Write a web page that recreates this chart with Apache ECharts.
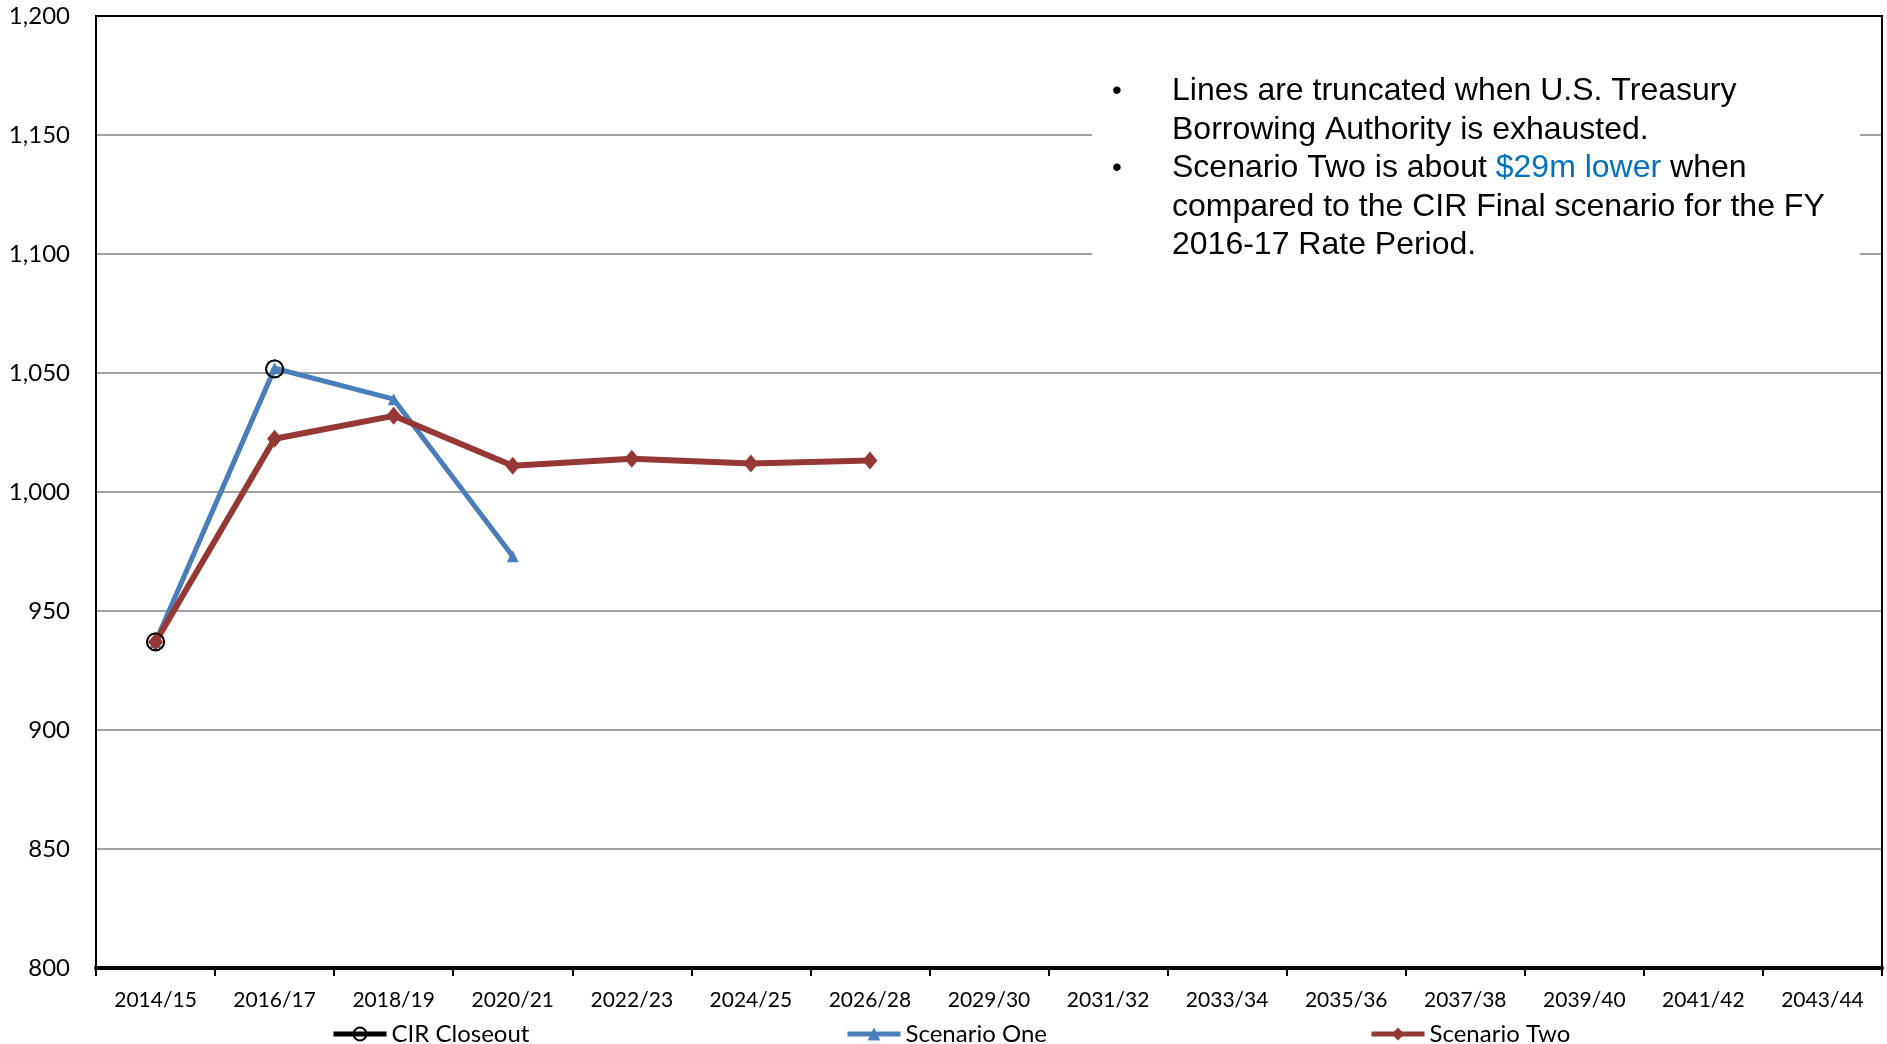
<!DOCTYPE html>
<html>
<head>
<meta charset="utf-8">
<script src="https://cdn.jsdelivr.net/npm/echarts@6/dist/echarts.min.js"></script>
<style>
  html, body { margin: 0; padding: 0; background: #fff; }
  #chart { width: 1887px; height: 1044px; }
</style>
</head>
<body>
<div id="chart"></div>
<script>
// Rate periods along the x axis
const periods = ['2014/15', '2016/17', '2018/19', '2020/21', '2022/23', '2024/25', '2026/28',
  '2029/30', '2031/32', '2033/34', '2035/36', '2037/38', '2039/40', '2041/42', '2043/44'];

// Series values (lines stop where borrowing authority runs out)
const cirCloseout = [937, 1051.7];
const scenarioOne = [937, 1052, 1039, 973];
const scenarioTwo = [937, 1022.4, 1032, 1011, 1014, 1012, 1013.2];

// Value axis ticks
const yTicks = [800, 850, 900, 950, 1000, 1050, 1100, 1150, 1200];

// Note text lines
const noteLines = [
  { bullet: true,  text: 'Lines are truncated when U.S. Treasury' },
  { bullet: false, text: 'Borrowing Authority is exhausted.' },
  { bullet: true,  text: 'Scenario Two is about {hl|$29m lower} when' },
  { bullet: false, text: 'compared to the CIR Final scenario for the FY' },
  { bullet: false, text: '2016-17 Rate Period.' }
];

const labelFont = 'Lato, "Open Sans", sans-serif';
const noteFont = '"Liberation Sans", Arial, sans-serif';
const chart = echarts.init(document.getElementById('chart'), null, { renderer: 'canvas' });

const noteElements = [];
noteLines.forEach(function (ln, i) {
  const y = 91.5 + i * 38.5;
  if (ln.bullet) {
    noteElements.push({
      type: 'text', x: 1117, y: y, z: 101,
      style: { text: '•', fontFamily: noteFont, fontSize: 28,
        fill: '#000', align: 'center', verticalAlign: 'middle' }
    });
  }
  noteElements.push({
    type: 'text', x: 1172, y: y, z: 101,
    style: {
      text: ln.text, fontFamily: noteFont, fontSize: 32,
      fill: '#000', align: 'left', verticalAlign: 'middle',
      rich: { hl: { fill: '#0070C0', fontFamily: noteFont, fontSize: 32 } }
    }
  });
});

function legendAt(left, name) {
  return {
    left: left, top: 1022, padding: 0,
    itemWidth: 53, itemHeight: 16, itemGap: 0,
    data: [name],
    lineStyle: { width: 5 },
    textStyle: { fontFamily: labelFont, fontSize: 24, color: '#000' }
  };
}

chart.setOption({
  animation: false,
  backgroundColor: '#fff',
  grid: {
    left: 96, right: 5, top: 16, bottom: 76,
    show: true, borderColor: '#000', borderWidth: 2, backgroundColor: '#fff'
  },
  legend: [
    legendAt(331, 'CIR Closeout'),
    legendAt(845, 'Scenario One'),
    legendAt(1369, 'Scenario Two')
  ],
  xAxis: {
    type: 'category',
    data: periods,
    boundaryGap: true,
    axisLine: { show: true, lineStyle: { color: '#000', width: 4 } },
    axisTick: { show: true, length: 8, lineStyle: { color: '#000', width: 2 } },
    axisLabel: { margin: 22, fontFamily: labelFont, fontSize: 21, color: '#000', interval: 0 },
    splitLine: { show: false }
  },
  yAxis: {
    type: 'value',
    min: yTicks[0],
    max: yTicks[yTicks.length - 1],
    interval: yTicks[1] - yTicks[0],
    axisLine: { show: true, lineStyle: { color: '#000', width: 2 } },
    axisTick: { show: false },
    axisLabel: {
      margin: 26, fontFamily: labelFont, fontSize: 24, color: '#000',
      formatter: function (v) { return v.toLocaleString('en-US'); }
    },
    splitLine: { show: true, showMinLine: false, showMaxLine: false,
      lineStyle: { color: '#a0a0a0', width: 2 } }
  },
  series: [
    {
      name: 'CIR Closeout',
      type: 'line',
      data: cirCloseout,
      z: 1,
      symbol: 'circle',
      symbolSize: 17,
      lineStyle: { color: '#000', width: 4 },
      itemStyle: { color: 'rgba(0,0,0,0)', borderColor: '#000', borderWidth: 1.8 },
      emphasis: { disabled: true }
    },
    {
      name: 'Scenario One',
      type: 'line',
      data: scenarioOne,
      z: 3,
      symbol: 'triangle',
      symbolSize: 12,
      lineStyle: { color: '#4A7EBB', width: 5 },
      itemStyle: { color: '#4A7EBB' },
      emphasis: { disabled: true }
    },
    {
      name: 'Scenario Two',
      type: 'line',
      data: scenarioTwo,
      z: 4,
      symbol: 'diamond',
      symbolSize: [15, 18],
      lineStyle: { color: '#953735', width: 6 },
      itemStyle: { color: '#953735' },
      emphasis: { disabled: true }
    },
    {
      // circle outlines drawn again above the other lines
      name: 'CIR Closeout points',
      type: 'line',
      data: cirCloseout,
      z: 6,
      symbol: 'circle',
      symbolSize: 17,
      lineStyle: { width: 0, opacity: 0 },
      itemStyle: { color: 'rgba(0,0,0,0)', borderColor: '#000', borderWidth: 1.8 },
      emphasis: { disabled: true },
      silent: true
    }
  ],
  graphic: [
    {
      type: 'rect', z: 100,
      shape: { x: 1092, y: 30, width: 768, height: 300 },
      style: { fill: '#fff' }
    },
    {
      // plot frame on top of the grid lines
      type: 'rect', z: 102,
      shape: { x: 96, y: 16, width: 1786, height: 952 },
      style: { fill: 'none', stroke: '#000', lineWidth: 2 }
    }
  ].concat(noteElements)
});
</script>
</body>
</html>
